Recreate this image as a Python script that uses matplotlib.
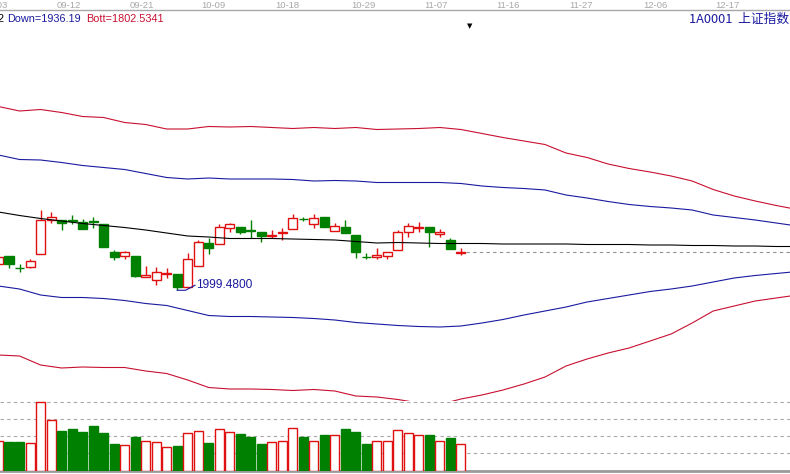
import matplotlib
matplotlib.use('Agg')
import matplotlib.pyplot as plt
import matplotlib.transforms as mtransforms
from matplotlib.patches import Rectangle

# daily candles (price points)
opens  = [2052, 2068, 2045, 2046, 2072, 2140, 2140, 2141, 2136, 2139, 2132, 2076, 2068, 2068, 2026,
          2020, 2033, 2032, 2006, 2048, 2094, 2092, 2124, 2126, 2121, 2116, 2109, 2115, 2122, 2143,
          2132, 2146, 2118, 2126, 2110, 2067, 2066, 2068, 2080, 2116, 2125, 2126, 2112, 2100, 2075]
highs  = [2070, 2068, 2052, 2062, 2160, 2156, 2140, 2150, 2142, 2146, 2132, 2080, 2078, 2068, 2048,
          2046, 2044, 2032, 2074, 2100, 2104, 2132, 2134, 2126, 2140, 2116, 2120, 2124, 2152, 2146,
          2152, 2146, 2134, 2140, 2110, 2074, 2084, 2076, 2120, 2134, 2136, 2126, 2122, 2104, 2084]
lows   = [2048, 2044, 2036, 2044, 2072, 2134, 2120, 2132, 2122, 2124, 2086, 2060, 2062, 2026, 2026,
          2010, 2024, 1999.48, 2004, 2048, 2072, 2092, 2116, 2112, 2104, 2096, 2104, 2100, 2122, 2138,
          2124, 2126, 2118, 2114, 2064, 2062, 2062, 2062, 2080, 2106, 2116, 2086, 2106, 2082, 2070]
closes = [2066, 2052, 2044, 2058, 2140, 2146, 2134, 2139, 2122, 2137, 2086, 2066, 2076, 2028, 2030,
          2036, 2034, 2006, 2062, 2096, 2084, 2126, 2132, 2116, 2119, 2108, 2110, 2116, 2144, 2142,
          2144, 2126, 2128, 2114, 2076, 2066, 2070, 2076, 2116, 2128, 2126, 2116, 2116, 2082, 2076]
volumes = [30, 29, 29, 28, 69, 51, 40, 42, 39, 45, 38, 27, 26, 34, 30,
           29, 24, 25, 38, 40, 28, 42, 39, 37, 34, 27, 29, 30, 43, 34,
           30, 36, 36, 42, 39, 27, 30, 30, 41, 38, 36, 36, 30, 33, 27]

# channel lines, one value every 2 bars (they run past the last bar)
band_idx = list(range(0, 77, 2))
upper_red = [2367, 2358, 2361, 2355, 2347, 2345, 2335, 2331, 2322, 2322, 2327, 2326, 2327, 2325,
             2323, 2325, 2323, 2325, 2321, 2322, 2323, 2325, 2321, 2313, 2305, 2298, 2291, 2274,
             2265, 2252, 2243, 2236, 2228, 2218, 2201, 2188, 2178, 2169, 2161]
upper_blue = [2270, 2261, 2260, 2255, 2249, 2245, 2241, 2233, 2225, 2222, 2224, 2222, 2222, 2222,
              2221, 2218, 2219, 2218, 2215, 2215, 2215, 2215, 2213, 2208, 2205, 2203, 2200, 2190,
              2184, 2177, 2171, 2167, 2164, 2160, 2150, 2145, 2140, 2134, 2128]
mid_line = [2156, 2149, 2143, 2138, 2133, 2129, 2125, 2120, 2114, 2108, 2106, 2103, 2103, 2103,
            2102, 2101, 2100, 2097, 2094, 2095, 2094, 2093, 2093, 2093, 2092, 2092, 2092, 2092,
            2091, 2091, 2091, 2090, 2090, 2089, 2089, 2088, 2088, 2087, 2087]
lower_blue = [2008, 2002, 1990, 1985, 1985, 1983, 1979, 1973, 1969, 1959, 1949, 1947, 1947, 1946,
              1945, 1943, 1940, 1935, 1932, 1929, 1927, 1926, 1928, 1934, 1941, 1950, 1958, 1966,
              1976, 1983, 1990, 1997, 2002, 2008, 2016, 2024, 2029, 2033, 2037]
lower_red = [1870, 1868, 1850, 1844, 1846, 1845, 1845, 1838, 1833, 1820, 1805, 1802, 1802, 1801,
             1799, 1801, 1798, 1788, 1786, 1781, 1774, 1771, 1782, 1790, 1800, 1812, 1826, 1848,
             1862, 1874, 1884, 1898, 1912, 1934, 1958, 1968, 1978, 1984, 1990]

date_labels = ['09-03', '09-12', '09-21', '10-09', '10-18', '10-29', '11-07', '11-16', '11-27', '12-06', '12-17']
date_pos = [-0.3, 6.71, 13.65, 20.41, 27.45, 34.68, 41.63, 48.48, 55.42, 62.46, 69.32]

RED = '#e01010'
GREEN = '#008000'
BAND_RED = '#c81030'
BAND_BLUE = '#1a1aa0'
GREY = '#a8a8a8'

W, H = 790, 474
fig = plt.figure(figsize=(W / 100, H / 100), dpi=100)
ax = fig.add_axes([0, 1 - 402 / H, 1, 392 / H])
vax = fig.add_axes([0, 3 / H, 1, 70 / H])

xmin, xmax = 0.143, 75.31
body_w = 0.86

# candles
for i in range(len(opens)):
    o, h, l, c = opens[i], highs[i], lows[i], closes[i]
    up = c >= o
    col = RED if up else GREEN
    top, bot = max(o, c), min(o, c)
    ax.vlines(i, top, h, color=col, lw=1.0, zorder=3)
    ax.vlines(i, l, bot, color=col, lw=1.0, zorder=3)
    ax.add_patch(Rectangle((i - body_w / 2, bot), body_w, top - bot,
                           facecolor='white' if up else GREEN, edgecolor=col, lw=1.0, zorder=4))

ax.plot(band_idx, upper_red, color=BAND_RED, lw=0.8, zorder=5)
ax.plot(band_idx, lower_red, color=BAND_RED, lw=0.8, zorder=5)
ax.plot(band_idx, upper_blue, color=BAND_BLUE, lw=0.8, zorder=5)
ax.plot(band_idx, lower_blue, color=BAND_BLUE, lw=0.8, zorder=5)
ax.plot(band_idx, mid_line, color='black', lw=0.8, zorder=5)

# last price line
last = len(closes) - 1
ax.hlines(closes[-1], last + 0.45, xmax + 1, color='#909090', lw=0.8, linestyles=(0, (3, 3)), zorder=2)

# lowest point marker
lo = lows.index(min(lows))
ax.plot([lo, lo + 0.8, lo + 1.7], [lows[lo], lows[lo], lows[lo] + 10], color=BAND_BLUE, lw=0.8, zorder=6)
ax.text(lo + 1.75, lows[lo] + 10, '%.4f' % lows[lo], color=BAND_BLUE, fontsize=8.6,
        family='Liberation Sans', va='center', ha='left', zorder=6)

ax.set_xlim(xmin, xmax)
ax.set_ylim(1776, 2560)
ax.set_xticks([])
ax.set_yticks([])
for s in ['left', 'right', 'bottom']:
    ax.spines[s].set_visible(False)
ax.spines['top'].set_color(GREY)
ax.spines['top'].set_linewidth(1.0)

# date labels above the chart
trans = mtransforms.blended_transform_factory(ax.transData, fig.transFigure)
for p, lab in zip(date_pos, date_labels):
    ax.text(p, 1 - 5 / H, lab, transform=trans, ha='center', va='center', color=GREY,
            fontsize=6.8, family='Liberation Sans', clip_on=False)

# header texts
fig.text(-3 / W, 1 - 19 / H, '2', color='black', fontsize=7.8, family='Liberation Sans', va='center')
fig.text(7 / W, 1 - 19 / H, 'Down=1936.19', color=BAND_BLUE, fontsize=7.8, family='Liberation Sans', va='center')
fig.text(86 / W, 1 - 19 / H, 'Bott=1802.5341', color=BAND_RED, fontsize=7.8, family='Liberation Sans', va='center')
fig.text(789 / W, 1 - 19 / H, '1A0001  上证指数', color=BAND_BLUE, fontsize=9.2,
         family=['Noto Sans CJK SC', 'DejaVu Sans'], va='center', ha='right')
fig.text(470 / W, 1 - 26 / H, '▼', color='black', fontsize=5, ha='center', va='center')

# volume panel
vax.set_facecolor('white')
for g in [18, 35, 52, 69]:
    vax.axhline(g, color=GREY, lw=0.8, linestyle=(0, (3, 3)), zorder=1)
for i, v in enumerate(volumes):
    up = closes[i] >= opens[i]
    vax.add_patch(Rectangle((i - body_w / 2, 0), body_w, v,
                            facecolor='white' if up else GREEN,
                            edgecolor=RED if up else GREEN, lw=1.0, zorder=3))
vax.set_xlim(xmin, xmax)
vax.set_ylim(0, 70)
vax.set_xticks([])
vax.set_yticks([])
for s in ['left', 'right', 'top']:
    vax.spines[s].set_visible(False)
vax.spines['bottom'].set_color('#999999')
vax.spines['bottom'].set_linewidth(2)

fig.savefig('out.png', dpi=100)
